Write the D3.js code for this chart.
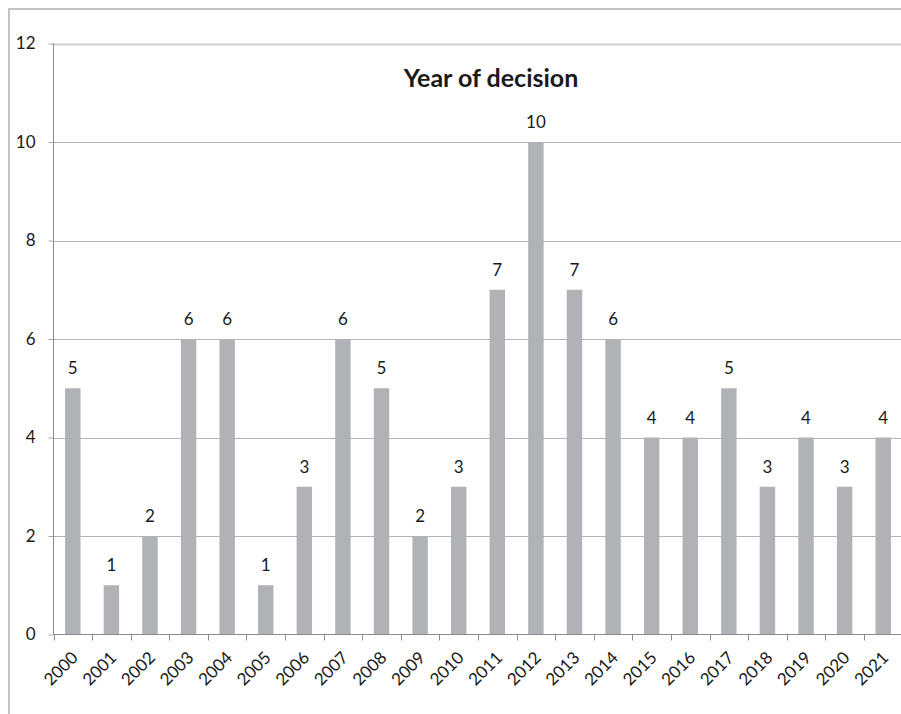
<!DOCTYPE html>
<html>
<head>
<meta charset="utf-8">
<script src="https://cdn.jsdelivr.net/npm/d3@7"></script>
<style>
  html, body { margin: 0; padding: 0; background: #fff; }
  svg { display: block; }
  text { font-family: Lato, "Open Sans", sans-serif; fill: #1a1a1a; }
</style>
</head>
<body>
<svg id="chart" width="901" height="714"></svg>
<script>
// Number of decisions per year
const years = ["2000","2001","2002","2003","2004","2005","2006","2007","2008","2009","2010",
               "2011","2012","2013","2014","2015","2016","2017","2018","2019","2020","2021"];
const counts = [5,1,2,6,6,1,3,6,5,2,3,7,10,7,6,4,4,5,3,4,3,4];
const yTicks = [0,2,4,6,8,10,12];
const title = "Year of decision";

const svg = d3.select("#chart");
const margin = { left: 53.5, top: 43.5, right: -1.5, bottom: 79.5 };
const W = 901, H = 714;

// outer chart frame
svg.append("rect")
  .attr("x", 9).attr("y", 9)
  .attr("width", W + 20).attr("height", H + 20)
  .attr("fill", "none").attr("stroke", "#c4c4c4").attr("stroke-width", 2);

const x = d3.scaleBand()
  .domain(years)
  .range([margin.left, W - margin.right])
  .paddingInner(0.6).paddingOuter(0.3);

const y = d3.scaleLinear()
  .domain([0, 12])
  .range([H - margin.bottom, margin.top]);

// horizontal gridlines with left tick stubs
const yAxis = svg.append("g")
  .attr("transform", `translate(${margin.left},0)`)
  .call(d3.axisLeft(y).tickValues(yTicks).tickSize(5).tickPadding(13));
yAxis.select(".domain").remove();
yAxis.selectAll(".tick line").attr("stroke", "#a6a6a6");
yAxis.selectAll(".tick text")
  .style("font-size", "17px").style("font-family", "Lato, 'Open Sans', sans-serif").attr("fill", "#1a1a1a");

svg.append("g")
  .selectAll("line")
  .data(yTicks.filter(d => d > 0))
  .join("line")
  .attr("x1", margin.left).attr("x2", W + 2)
  .attr("y1", d => Math.round(y(d)) + 0.5).attr("y2", d => Math.round(y(d)) + 0.5)
  .attr("stroke", d => d === 12 ? "#cfcfcf" : "#b4b4b4").attr("stroke-width", d => d === 12 ? 2 : 1);

// bars
svg.append("g")
  .selectAll("rect")
  .data(counts)
  .join("rect")
  .attr("x", (d, i) => x(years[i]))
  .attr("width", x.bandwidth())
  .attr("y", d => y(d))
  .attr("height", d => y(0) - y(d))
  .attr("fill", "#b1b2b6");

// value labels
svg.append("g")
  .selectAll("text")
  .data(counts)
  .join("text")
  .attr("x", (d, i) => x(years[i]) + x.bandwidth() / 2)
  .attr("y", d => y(d) - 14)
  .attr("text-anchor", "middle")
  .style("font-size", "17px")
  .text(d => d);

// value axis line
svg.append("line")
  .attr("x1", margin.left).attr("x2", margin.left)
  .attr("y1", margin.top).attr("y2", y(0))
  .attr("stroke", "#8c8c8c");

// category axis
const step = x.step();
const boundaries = d3.range(years.length + 1).map(i => margin.left + i * step);
svg.append("line")
  .attr("x1", margin.left).attr("x2", W + 2)
  .attr("y1", y(0)).attr("y2", y(0))
  .attr("stroke", "#8c8c8c");
svg.append("g")
  .selectAll("line")
  .data(boundaries)
  .join("line")
  .attr("x1", d => Math.round(d) + 0.5).attr("x2", d => Math.round(d) + 0.5)
  .attr("y1", y(0)).attr("y2", y(0) + 6)
  .attr("stroke", "#8c8c8c");

svg.append("g")
  .selectAll("text")
  .data(years)
  .join("text")
  .attr("transform", d => `translate(${x(d) + x.bandwidth() / 2 + 2},${y(0) + 20}) rotate(-45)`)
  .attr("text-anchor", "end")
  .attr("dy", "0.35em")
  .style("font-size", "17px")
  .text(d => d);

// title
svg.append("text")
  .attr("x", 491).attr("y", 87)
  .attr("text-anchor", "middle")
  .style("font-size", "25px")
  .style("font-weight", "bold")
  .text(title);
</script>
</body>
</html>
